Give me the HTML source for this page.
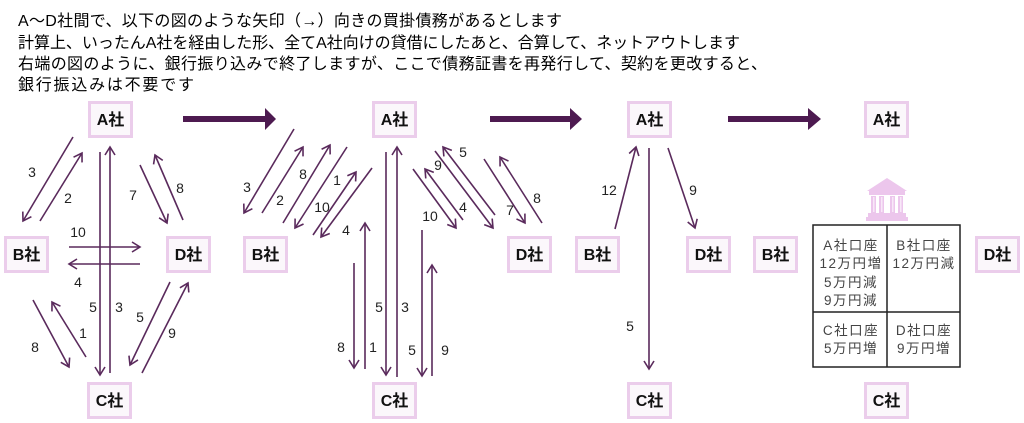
<!DOCTYPE html>
<html><head><meta charset="utf-8">
<style>
html,body{margin:0;padding:0;background:#fff;}
svg{display:block;}
.t{font-family:"Liberation Sans","Noto Sans CJK JP",sans-serif;font-size:16px;fill:#000;}
.n{font-family:"Liberation Sans","Noto Sans CJK JP",sans-serif;font-size:16px;font-weight:bold;fill:#111;text-anchor:middle;}
.l{font-family:"Liberation Sans","Noto Sans CJK JP",sans-serif;font-size:14px;fill:#222;text-anchor:middle;}
.c{font-family:"Liberation Sans","Noto Sans CJK JP",sans-serif;font-size:13.5px;fill:#444;text-anchor:middle;letter-spacing:1.5px;}
.a{stroke:#5a2a5c;stroke-width:1.6;fill:none;marker-end:url(#h);}
.box{fill:#fbf7fb;stroke:#ebcdeb;stroke-width:3;}
.big{fill:#4d1a50;}
</style></head>
<body>
<svg width="1024" height="423" viewBox="0 0 1024 423" xmlns="http://www.w3.org/2000/svg">
<defs>
<marker id="h" markerUnits="userSpaceOnUse" markerWidth="20" markerHeight="20" refX="0" refY="0" viewBox="-10 -10 20 20" orient="auto" overflow="visible">
<path d="M-8,-5 L0,0 L-8,5" fill="none" stroke="#5a2a5c" stroke-width="1.6"/>
</marker>
</defs>

<!-- header text -->
<text class="t" x="18" y="26" textLength="544" lengthAdjust="spacing">A～D社間で、以下の図のような矢印（→）向きの買掛債務があるとします</text>
<text class="t" x="18" y="48" textLength="722" lengthAdjust="spacing">計算上、いったんA社を経由した形、全てA社向けの貸借にしたあと、合算して、ネットアウトします</text>
<text class="t" x="18" y="69" textLength="749" lengthAdjust="spacing">右端の図のように、銀行振り込みで終了しますが、ここで債務証書を再発行して、契約を更改すると、</text>
<text class="t" x="18" y="90" textLength="176" lengthAdjust="spacing">銀行振込みは不要です</text>

<!-- big arrows -->
<polygon class="big" points="183,116 265,116 265,108 276,119 265,130 265,122 183,122"/>
<polygon class="big" points="490,116 570,116 570,108 582,119 570,130 570,122 490,122"/>
<polygon class="big" points="728,116 808,116 808,108 821,119 808,130 808,122 728,122"/>

<!-- Diagram 1 -->
<line class="a" x1="73" y1="137" x2="23" y2="221"/>
<line class="a" x1="40" y1="221" x2="82" y2="153"/>
<line class="a" x1="100" y1="152" x2="100" y2="375"/>
<line class="a" x1="110" y1="373" x2="110" y2="147"/>
<line class="a" x1="140" y1="165" x2="167" y2="223"/>
<line class="a" x1="183" y1="220" x2="155" y2="155"/>
<line class="a" x1="69" y1="247" x2="140" y2="247"/>
<line class="a" x1="140" y1="264" x2="69" y2="264"/>
<line class="a" x1="33" y1="300" x2="69" y2="367"/>
<line class="a" x1="86" y1="357" x2="52" y2="302"/>
<line class="a" x1="170" y1="282" x2="130" y2="365"/>
<line class="a" x1="142" y1="373" x2="188" y2="283"/>
<text class="l" x="32" y="177">3</text>
<text class="l" x="68" y="203">2</text>
<text class="l" x="93" y="312">5</text>
<text class="l" x="119" y="312">3</text>
<text class="l" x="133" y="200">7</text>
<text class="l" x="180" y="193">8</text>
<text class="l" x="78" y="237">10</text>
<text class="l" x="78" y="287">4</text>
<text class="l" x="35" y="352">8</text>
<text class="l" x="83" y="338">1</text>
<text class="l" x="140" y="322">5</text>
<text class="l" x="172" y="338">9</text>

<!-- Diagram 2 -->
<line class="a" x1="294" y1="129" x2="244" y2="213"/>
<line class="a" x1="262" y1="213" x2="303" y2="147"/>
<line class="a" x1="283" y1="223" x2="330" y2="145"/>
<line class="a" x1="347" y1="147" x2="295" y2="228"/>
<line class="a" x1="313" y1="235" x2="356" y2="172"/>
<line class="a" x1="372" y1="168" x2="321" y2="237"/>
<line class="a" x1="386" y1="152" x2="386" y2="375"/>
<line class="a" x1="397" y1="377" x2="397" y2="147"/>
<line class="a" x1="354" y1="263" x2="354" y2="368"/>
<line class="a" x1="365" y1="369" x2="365" y2="223"/>
<line class="a" x1="422" y1="230" x2="422" y2="376"/>
<line class="a" x1="432" y1="376" x2="432" y2="265"/>
<line class="a" x1="413" y1="169" x2="456" y2="228"/>
<line class="a" x1="463" y1="220" x2="425" y2="169"/>
<line class="a" x1="435" y1="151" x2="493" y2="228"/>
<line class="a" x1="495" y1="215" x2="443" y2="147"/>
<line class="a" x1="484" y1="159" x2="525" y2="223"/>
<line class="a" x1="542" y1="223" x2="500" y2="157"/>
<text class="l" x="247" y="192">3</text>
<text class="l" x="280" y="205">2</text>
<text class="l" x="303" y="179">8</text>
<text class="l" x="322" y="212">10</text>
<text class="l" x="337" y="185">1</text>
<text class="l" x="346" y="235">4</text>
<text class="l" x="379" y="312">5</text>
<text class="l" x="405" y="312">3</text>
<text class="l" x="341" y="352">8</text>
<text class="l" x="373" y="352">1</text>
<text class="l" x="412" y="355">5</text>
<text class="l" x="445" y="355">9</text>
<text class="l" x="430" y="221">10</text>
<text class="l" x="438" y="170">9</text>
<text class="l" x="463" y="212">4</text>
<text class="l" x="463" y="157">5</text>
<text class="l" x="510" y="215">7</text>
<text class="l" x="537" y="203">8</text>

<!-- Diagram 3 -->
<line class="a" x1="615" y1="229" x2="636" y2="147"/>
<line class="a" x1="668" y1="148" x2="695" y2="228"/>
<line class="a" x1="649" y1="148" x2="649" y2="369"/>
<text class="l" x="609" y="195">12</text>
<text class="l" x="693" y="195">9</text>
<text class="l" x="630" y="331">5</text>

<!-- Diagram 4: bank icon -->
<g fill="#ecc6ec">
<polygon points="867,191 887,178 907,191"/>
<rect x="869" y="191" width="36" height="4"/>
<rect x="871" y="196" width="5" height="17"/>
<rect x="879" y="196" width="5" height="17"/>
<rect x="890" y="196" width="5" height="17"/>
<rect x="898" y="196" width="5" height="17"/>
<rect x="868" y="213" width="38" height="4"/>
<rect x="866" y="217" width="42" height="4"/>
</g>
<g fill="#f8e8f8">
<rect x="873" y="197" width="1.5" height="15"/>
<rect x="881" y="197" width="1.5" height="15"/>
<rect x="892" y="197" width="1.5" height="15"/>
<rect x="900" y="197" width="1.5" height="15"/>
</g>
<!-- table -->
<rect x="813" y="225" width="147" height="142" fill="none" stroke="#222" stroke-width="1.5"/>
<line x1="887" y1="225" x2="887" y2="367" stroke="#222" stroke-width="1.5"/>
<line x1="813" y1="312" x2="960" y2="312" stroke="#222" stroke-width="1.5"/>
<text class="c" x="851" y="250">A社口座</text>
<text class="c" x="851" y="268">12万円増</text>
<text class="c" x="851" y="287">5万円減</text>
<text class="c" x="851" y="305">9万円減</text>
<text class="c" x="924" y="250">B社口座</text>
<text class="c" x="924" y="268">12万円減</text>
<text class="c" x="851" y="335">C社口座</text>
<text class="c" x="851" y="353">5万円増</text>
<text class="c" x="924" y="335">D社口座</text>
<text class="c" x="924" y="353">9万円増</text>

<!-- node boxes -->
<g>
<rect class="box" x="89.5" y="102.5" width="42" height="34"/>
<rect class="box" x="5.5" y="237.5" width="42" height="34"/>
<rect class="box" x="167.5" y="237.5" width="42" height="34"/>
<rect class="box" x="88.5" y="383.5" width="42" height="34"/>

<rect class="box" x="373.5" y="102.5" width="42" height="34"/>
<rect class="box" x="244.5" y="237.5" width="42" height="34"/>
<rect class="box" x="508.5" y="237.5" width="42" height="34"/>
<rect class="box" x="373.5" y="383.5" width="42" height="34"/>

<rect class="box" x="628.5" y="102.5" width="42" height="34"/>
<rect class="box" x="576.5" y="237.5" width="42" height="34"/>
<rect class="box" x="687.5" y="237.5" width="42" height="34"/>
<rect class="box" x="628.5" y="383.5" width="42" height="34"/>

<rect class="box" x="865.5" y="102.5" width="42" height="34"/>
<rect class="box" x="754.5" y="237.5" width="42" height="34"/>
<rect class="box" x="976.5" y="237.5" width="42" height="34"/>
<rect class="box" x="865.5" y="383.5" width="42" height="34"/>
</g>
<text class="n" x="110.5" y="125">A社</text>
<text class="n" x="26.5" y="260">B社</text>
<text class="n" x="188.5" y="260">D社</text>
<text class="n" x="109.5" y="406">C社</text>

<text class="n" x="394.5" y="125">A社</text>
<text class="n" x="265.5" y="260">B社</text>
<text class="n" x="529.5" y="260">D社</text>
<text class="n" x="394.5" y="406">C社</text>

<text class="n" x="649.5" y="125">A社</text>
<text class="n" x="597.5" y="260">B社</text>
<text class="n" x="708.5" y="260">D社</text>
<text class="n" x="649.5" y="406">C社</text>

<text class="n" x="886.5" y="125">A社</text>
<text class="n" x="775.5" y="260">B社</text>
<text class="n" x="997.5" y="260">D社</text>
<text class="n" x="886.5" y="406">C社</text>
</svg>
</body></html>
